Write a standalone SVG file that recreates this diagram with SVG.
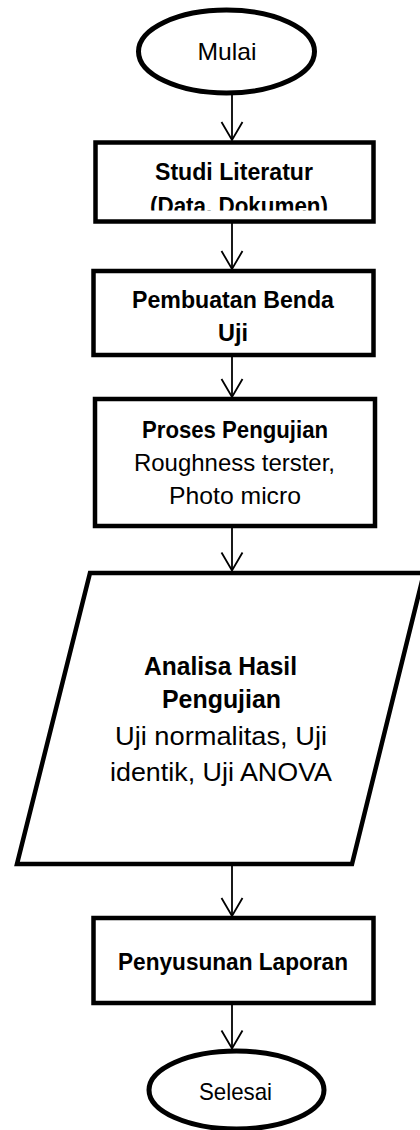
<svg xmlns="http://www.w3.org/2000/svg" width="420" height="1130" viewBox="0 0 420 1130">
<style>
.shape{fill:#fff;stroke:#000;stroke-width:4.5;stroke-linejoin:miter}
.term{fill:#fff;stroke:#000;stroke-width:5}
.t{font-family:"Liberation Sans",Arial,sans-serif;font-size:24px;fill:#000;text-anchor:middle}
.b{font-weight:bold}
.p{font-size:26px}
.conn{stroke:#000;stroke-width:1.8;fill:none}
</style>
<defs>
<marker id="arr" markerUnits="userSpaceOnUse" viewBox="-20 -12 22 24" markerWidth="22" markerHeight="24" refX="0" refY="0" orient="auto" overflow="visible">
<path d="M-18,-10.5 L0,0 L-18,10.5" fill="none" stroke="#000" stroke-width="1.8"/>
</marker>
<clipPath id="clip1"><rect x="96" y="142" width="278" height="68.5"/></clipPath>
</defs>
<rect width="420" height="1130" fill="#fff"/>
<g id="connectors">
<line class="conn" x1="232" y1="94" x2="232" y2="140" marker-end="url(#arr)"/>
<line class="conn" x1="232" y1="223" x2="232" y2="269" marker-end="url(#arr)"/>
<line class="conn" x1="232" y1="357" x2="232" y2="397" marker-end="url(#arr)"/>
<line class="conn" x1="232" y1="527" x2="232" y2="570.5" marker-end="url(#arr)"/>
<line class="conn" x1="232" y1="866" x2="232" y2="916" marker-end="url(#arr)"/>
<line class="conn" x1="232" y1="1005" x2="232" y2="1048.5" marker-end="url(#arr)"/>
</g>
<g id="mulai">
<ellipse class="term" cx="226.5" cy="51.5" rx="88" ry="41.5"/>
<text class="t" x="227" y="60" textLength="59" lengthAdjust="spacingAndGlyphs">Mulai</text>
</g>
<g id="studi-literatur">
<rect class="shape" x="95.5" y="142.5" width="278" height="79"/>
<text class="t b" x="234" y="180" textLength="158" lengthAdjust="spacingAndGlyphs">Studi Literatur</text>
<text class="t b" x="239" y="214" textLength="178" lengthAdjust="spacingAndGlyphs" clip-path="url(#clip1)">(Data. Dokumen)</text>
</g>
<g id="pembuatan-benda-uji">
<rect class="shape" x="93.5" y="271" width="280" height="84"/>
<text class="t b" x="233" y="308" textLength="202" lengthAdjust="spacingAndGlyphs">Pembuatan Benda</text>
<text class="t b" x="233" y="340.5" textLength="30" lengthAdjust="spacingAndGlyphs">Uji</text>
</g>
<g id="proses-pengujian">
<rect class="shape" x="95" y="399" width="280" height="127"/>
<text class="t b" x="235" y="438" textLength="186" lengthAdjust="spacingAndGlyphs">Proses Pengujian</text>
<text class="t" x="234.5" y="471" textLength="201" lengthAdjust="spacingAndGlyphs">Roughness terster,</text>
<text class="t" x="235" y="503.5" textLength="132" lengthAdjust="spacingAndGlyphs">Photo micro</text>
</g>
<g id="analisa-hasil">
<polygon class="shape" points="90,573 424,573 352,864 17,864"/>
<text class="t b p" x="220.5" y="675" textLength="153" lengthAdjust="spacingAndGlyphs">Analisa Hasil</text>
<text class="t b p" x="221.5" y="708" textLength="119" lengthAdjust="spacingAndGlyphs">Pengujian</text>
<text class="t p" x="221" y="745" textLength="212" lengthAdjust="spacingAndGlyphs">Uji normalitas, Uji</text>
<text class="t p" x="221" y="781" textLength="222" lengthAdjust="spacingAndGlyphs">identik, Uji ANOVA</text>
</g>
<g id="penyusunan-laporan">
<rect class="shape" x="93.5" y="918" width="280" height="85"/>
<text class="t b" x="233" y="970" textLength="230" lengthAdjust="spacingAndGlyphs">Penyusunan Laporan</text>
</g>
<g id="selesai">
<ellipse class="term" cx="236.5" cy="1090" rx="87.5" ry="39"/>
<text class="t" x="235.5" y="1100" textLength="73" lengthAdjust="spacingAndGlyphs">Selesai</text>
</g>
</svg>
